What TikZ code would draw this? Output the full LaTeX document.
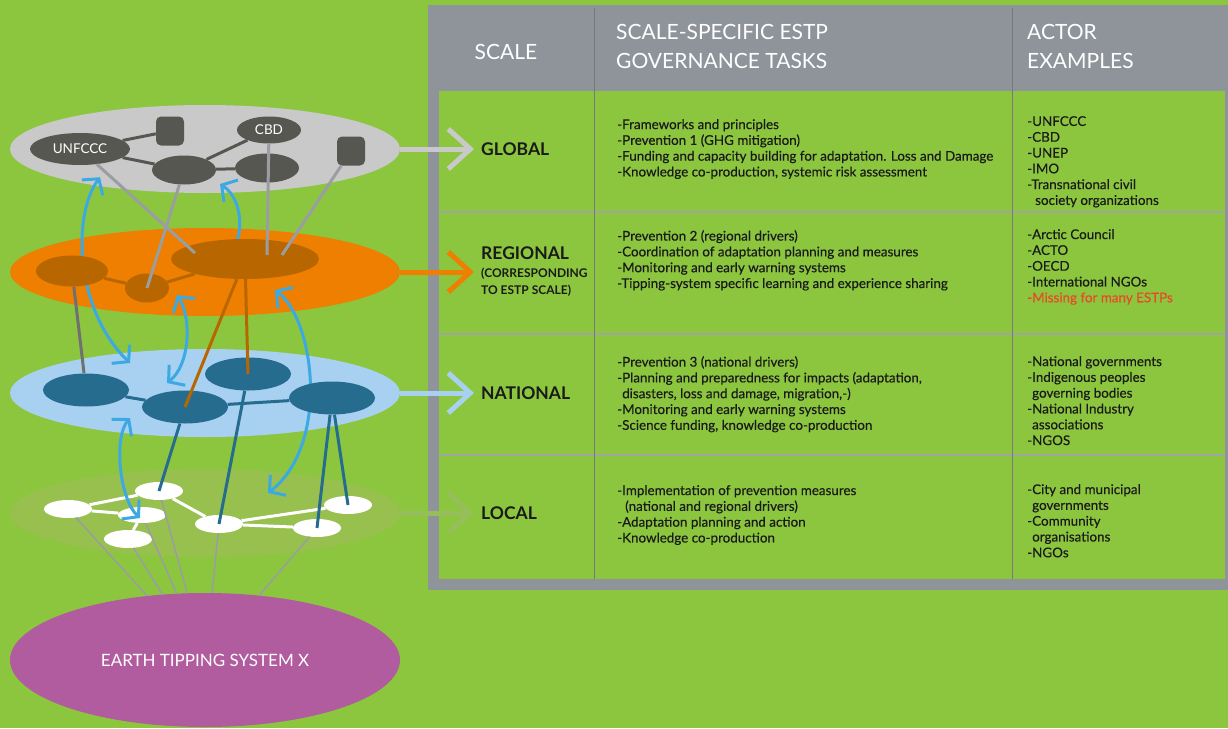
\documentclass[tikz,border=0pt]{standalone}
\usepackage{fontspec}
\setmainfont{Lato}
\newfontfamily\tabfam{Lato}[UprightFeatures={FakeBold=0.4}]
\usepackage{tikz}
\usetikzlibrary{positioning,arrows.meta,shapes.geometric,calc}

\definecolor{leaf}{RGB}{140,198,63}
\definecolor{tabgray}{RGB}{143,148,155}
\definecolor{rulegray}{RGB}{160,165,160}
\definecolor{colgray}{RGB}{118,122,128}
\definecolor{globfill}{RGB}{201,201,201}
\definecolor{globnode}{RGB}{87,87,82}
\definecolor{linkgray}{RGB}{154,157,162}
\definecolor{linkdark}{RGB}{112,112,112}
\definecolor{regfill}{RGB}{238,127,0}
\definecolor{regnode}{RGB}{184,103,0}
\definecolor{natfill}{RGB}{168,209,241}
\definecolor{natnode}{RGB}{38,108,143}
\definecolor{locfill}{RGB}{151,192,78}
\definecolor{locarrow}{RGB}{150,190,90}
\definecolor{flowblue}{RGB}{60,169,226}
\definecolor{earthpink}{RGB}{176,92,158}
\definecolor{warnred}{RGB}{232,74,39}
\definecolor{inkblack}{RGB}{26,26,26}

\newcommand{\cellfont}{\tabfam\fontsize{13.4}{15.8}\selectfont}
\pgfdeclarelayer{front}
\pgfsetlayers{main,front}

\begin{document}
\begin{tikzpicture}[x=1pt, y=-1pt,
  lay/.style={ellipse, minimum width=390pt, minimum height=88pt, inner sep=0pt},
  gnode/.style={ellipse, fill=globnode, minimum width=64pt, minimum height=29pt, inner sep=0pt, text=white, font=\fontsize{13.5}{13.5}\selectfont},
  gbox/.style={rounded corners=5pt, fill=globnode, minimum width=28pt, minimum height=29pt},
  rnode/.style={ellipse, fill=regnode, inner sep=0pt},
  nnode/.style={ellipse, fill=natnode, minimum width=86pt, minimum height=33pt, inner sep=0pt},
  lnode/.style={ellipse, fill=white, minimum width=48pt, minimum height=18pt, inner sep=0pt},
  flow/.style={draw=flowblue, line width=3pt, >={Straight Barb[length=11pt,width=26pt]}, <->},
  layarr/.style={line width=5pt, shorten >=7pt, -{Straight Barb[length=22pt,width=40pt]}},
  scl/.style={anchor=west, inner sep=0pt, align=left, font=\bfseries\fontsize{17.5}{17.5}\selectfont, text=inkblack},
  cell/.style={anchor=north west, inner sep=0pt, align=left, font=\cellfont, text=inkblack},
  head/.style={inner sep=0pt, align=left, text=white, font=\fontsize{21}{29}\selectfont}]
  \fill[leaf] (0,0) rectangle (1228,728);
  \useasboundingbox (0,0) rectangle (1228,728);

  % table
  \fill[tabgray] (428,5) rectangle (1228,590);
  \fill[leaf] (439,91) rectangle (1225,579);
  \foreach \y in {212,334,455} \draw[rulegray, line width=1.5pt] (439,\y) -- (1225,\y);
  \foreach \x in {594,1012} \draw[colgray, line width=1pt] (\x,8) -- (\x,579);
  \node[head, anchor=center] (hscale) at (506,52) {SCALE};
  \node[head, anchor=west] (htask) at (616,46) {SCALE-SPECIFIC ESTP\\GOVERNANCE TASKS};
  \node[head, anchor=west] (hactor) at (1027,46) {ACTOR\\EXAMPLES};

  \node[scl] (lglobal) at (481,149) {GLOBAL};
  \node[scl] (lregional) at (481,272) {REGIONAL\\{\fontsize{12}{17}\selectfont (CORRESPONDING}\\{\fontsize{12}{17}\selectfont TO ESTP SCALE)}};
  \node[scl] (lnational) at (481,393) {NATIONAL};
  \node[scl] (llocal) at (481,513) {LOCAL};

  \node[cell] (tglobal) at (617,119) {-Frameworks and principles\\-Prevention 1 (GHG mitigation)\\-Funding and capacity building for adaptation. Loss and Damage\\-Knowledge co-production, systemic risk assessment};
  \node[cell] (tregional) at (617,230) {-Prevention 2 (regional drivers)\\-Coordination of adaptation planning and measures\\-Monitoring and early warning systems\\-Tipping-system specific learning and experience sharing};
  \node[cell] (tnational) at (617,356) {-Prevention 3 (national drivers)\\-Planning and preparedness for impacts (adaptation,\\\hspace*{5pt}disasters, loss and damage, migration,-)\\-Monitoring and early warning systems\\-Science funding, knowledge co-production};
  \node[cell] (tlocal) at (617,485) {-Implementation of prevention measures\\\hspace*{8pt}(national and regional drivers)\\-Adaptation planning and action\\-Knowledge co-production};

  \node[cell] (aglobal) at (1027,116) {-UNFCCC\\-CBD\\-UNEP\\-IMO\\-Transnational civil\\\hspace*{8pt}society organizations};
  \node[cell] (aregional) at (1027,229) {-Arctic Council\\-ACTO\\-OECD\\-International NGOs\\{\color{warnred}-Missing for many ESTPs}};
  \node[cell] (anational) at (1027,356) {-National governments\\-Indigenous peoples\\\hspace*{5pt}governing bodies\\-National Industry\\\hspace*{5pt}associations\\-NGOS};
  \node[cell] (alocal) at (1027,484) {-City and municipal\\\hspace*{5pt}governments\\-Community\\\hspace*{5pt}organisations\\-NGOs};

  % scale layers
  \node[lay, fill=globfill] (global) at (205,149) {};
  \node[lay, fill=regfill] (regional) at (205,272) {};
  \node[lay, fill=natfill] (national) at (205,393) {};
  \node[lay, fill=locfill] (local) at (205,513) {};
  \draw[layarr, globfill] (global.east) -- (lglobal.west);
  \draw[layarr, regfill] (regional.east) -- (lregional.west);
  \draw[layarr, natfill] (national.east) -- (lnational.west);
  \draw[layarr, locarrow] (local.east) -- (llocal.west);

  % local actors and the tipping system
  \node[ellipse, fill=earthpink, minimum width=390pt, minimum height=134pt, inner sep=0pt, text=white, font=\fontsize{17}{17}\selectfont] (earth) at (205,660) {EARTH TIPPING SYSTEM X};
  \node[lnode] (l1) at (68,509) {};
  \node[lnode] (l2) at (159,491) {};
  \node[lnode, minimum height=16pt] (l3) at (142,515) {};
  \node[lnode] (l4) at (128,539) {};
  \node[lnode] (l5) at (219,524) {};
  \node[lnode] (l6) at (348,505) {};
  \node[lnode] (l7) at (317,528) {};
  \draw[white, line width=3pt] (l1) -- (l2) (l1) -- (l3) (l3) -- (l4) (l2) -- (l5) (l5) -- (l6) (l5) -- (l7);
  \draw[linkgray, line width=1.5pt] (l1) -- (earth.132) (l4) -- (earth.123) (l3) -- (earth.113)
    (l2) -- (earth.105) (l5) -- (earth.84) (l7) -- (earth.50);

  \begin{pgfonlayer}{front}
  % national
  \node[nnode] (n1) at (86,390) {};
  \node[nnode] (n2) at (185,407) {};
  \node[nnode] (n3) at (248,374) {};
  \node[nnode] (n4) at (332,398) {};
  \draw[natnode, line width=3pt] (n1) -- (n2) (n2) -- (n4);
  \draw[natnode, line width=3pt] (n2) -- (l2.center) (n3) -- (l5.center) (n4) -- (l7.center) (n4) -- (l6.center);
  % regional
  \node[rnode, minimum width=72pt, minimum height=31pt] (r1) at (72,271) {};
  \node[rnode, minimum width=44pt, minimum height=29pt] (r2) at (147,288) {};
  \node[rnode, minimum width=148pt, minimum height=40pt] (r3) at (245,259) {};
  \draw[regnode, line width=3pt] (r1) -- (r2) (r2) -- (r3);
  \draw[regnode, line width=3pt] (r3) -- (n2.center) (r3) -- (n3.center);
  \draw[linkdark, line width=3pt] (r1) -- (n1);
  % global
  \node[gnode, minimum width=100pt, minimum height=32pt] (g1) at (80,149) {UNFCCC};
  \node[gbox] (g2) at (170,131) {};
  \node[gnode, minimum height=27pt] (g3) at (269,130) {CBD};
  \node[gnode] (g4) at (184,170) {};
  \node[gnode] (g5) at (267,168) {};
  \node[gbox] (g6) at (351,151) {};
  \draw[globnode, line width=3pt] (g1) -- (g2) (g1) -- (g4) (g4) -- (g3) (g4) -- (g5);
  \draw[linkgray, line width=3pt] (g1) -- ($(r3)+(-50,-6)$) (g4) -- (r2.center)
    (g3) -- ($(r3)+(22,-4)$) (g6) -- ($(r3)+(37,-4)$);
  \end{pgfonlayer}

  % cross-scale interplay
  \draw[flow] ($(g1.south)+(20,12)$) .. controls +(-28,38) and +(-55,-53) .. ($(n1)+(44,-27)$);
  \draw[flow] ($(g4)+(36,14)$) .. controls +(25,16) and +(23,-16) .. ($(r3)+(-23,2)$);
  \draw[flow] ($(r2)+(30,7)$) .. controls +(15,23) and +(23,-18) .. ($(n2)+(-18,-24)$);
  \draw[flow] ($(r3)+(30,31)$) .. controls +(40,30) and +(62,-48) .. ($(l5)+(49,-31)$);
  \draw[flow] ($(n2)+(-55,11)$) .. controls +(-17,20) and +(-20,-18) .. ($(l3)+(-2,3)$);
\end{tikzpicture}
\end{document}
